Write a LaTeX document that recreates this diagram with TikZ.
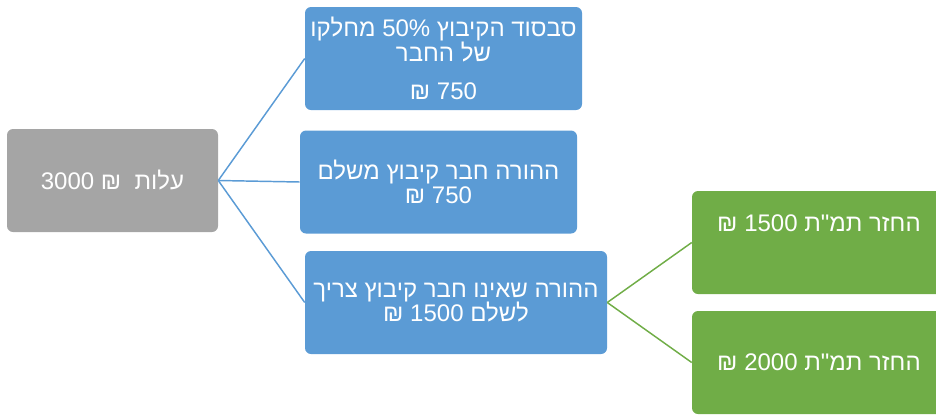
\documentclass[tikz,border=0pt]{standalone}
\usepackage{fontspec}
\setmainfont{Liberation Sans}
\newfontfamily\heb[Script=Hebrew]{Liberation Sans}
\TeXXeTstate=1
\usetikzlibrary{calc}
\definecolor{cgrey}{HTML}{A5A5A5}
\definecolor{cblue}{HTML}{5B9BD5}
\definecolor{cgreen}{HTML}{70AD47}
\newcommand{\rtline}[1]{\beginR #1\endR}
\newcommand{\ltrnum}[1]{\beginL #1\endL{}}
\tikzset{
  box/.style={rounded corners=4.5pt, text=white, align=center, inner sep=0pt,
              font=\heb\fontsize{18}{18.5}\selectfont},
  greybox/.style={box, fill=cgrey, minimum width=211*0.75pt, minimum height=103*0.75pt},
  bluebox/.style={box, fill=cblue, minimum height=103*0.75pt},
  greenbox/.style={box, fill=cgreen, minimum width=254*0.75pt, minimum height=103*0.75pt},
  blueline/.style={draw=cblue, line width=1.1pt},
  greenline/.style={draw=cgreen, line width=1.1pt}
}

\begin{document}
\begin{tikzpicture}[x=0.75pt,y=-0.75pt]
    \useasboundingbox (0,0) rectangle (936,415);
    \node[greybox] (cost) at (112.5,180.5) {\rtline{עלות\ \ ₪ \ltrnum{3000}}};
    \node[bluebox, minimum width=277*0.75pt] (subs) at (443.5,58.5)
        {\rtline{סבסוד הקיבוץ \ltrnum{50\%} מחלקו}\\\rtline{של החבר}\\[10pt]\rtline{\ltrnum{750} ₪}};
    \node[bluebox, minimum width=277*0.75pt] (memb) at (438.5,182)
        {\rtline{ההורה חבר קיבוץ משלם}\\\rtline{\ltrnum{750} ₪}};
    \node[bluebox, minimum width=302*0.75pt] (nonmemb) at (456,302.5)
        {\rtline{ההורה שאינו חבר קיבוץ צריך}\\\rtline{לשלם \ltrnum{1500} ₪}};
    \node[greenbox, text height=13pt, text depth=29pt] (refA) at (819,242.5)
        {\rtline{החזר תמ"ת \ltrnum{1500} ₪}};
    \node[greenbox] (refB) at (819,362.5)
        {\rtline{החזר תמ"ת \ltrnum{2000} ₪}};
    % connectors
    \draw[blueline] (cost.east) -- (subs.west);
    \draw[blueline] (cost.east) -- (memb.west);
    \draw[blueline] (cost.east) -- (nonmemb.west);
    \draw[greenline] (nonmemb.east) -- (refA.west);
    \draw[greenline] (nonmemb.east) -- (refB.west);
\end{tikzpicture}
\end{document}
